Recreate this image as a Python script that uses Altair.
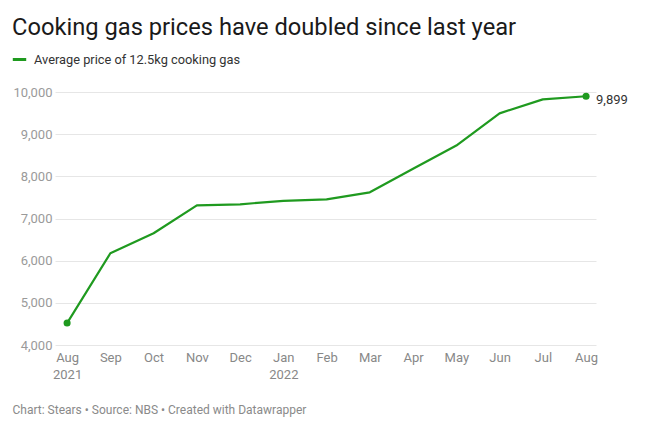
import altair as alt
import pandas as pd

month_idx = list(range(13))
month_top = ["Aug", "Sep", "Oct", "Nov", "Dec", "Jan", "Feb", "Mar", "Apr", "May", "Jun", "Jul", "Aug"]
month_bottom = ["2021", "", "", "", "", "2022", "", "", "", "", "", "", ""]
prices = [4520, 6175, 6650, 7313, 7337, 7420, 7455, 7621, 8180, 8730, 9494, 9826, 9899]
y_ticks = [4000, 5000, 6000, 7000, 8000, 9000, 10000]
series_name = "Average price of 12.5kg cooking gas"

df = pd.DataFrame({"m": month_idx, "price": prices, "series": series_name})
ends = df.iloc[[0, -1]].copy()
last = df.iloc[[-1]].copy()
last["label"] = ["9,899"]

GREEN = "#1f9a1f"
FONT = "Roboto"

top_js = "[" + ",".join(f"'{s}'" for s in month_top) + "]"
bot_js = "[" + ",".join(f"'{s}'" for s in month_bottom) + "]"
label_expr = f"{bot_js}[datum.value] == '' ? {top_js}[datum.value] : [{top_js}[datum.value], {bot_js}[datum.value]]"

x_enc = alt.X(
    "m:Q",
    scale=alt.Scale(domain=[-0.28, 12.23], nice=False, zero=False),
    axis=alt.Axis(
        values=month_idx,
        labelExpr=label_expr,
        grid=False, domain=False, ticks=False,
        labelFont=FONT, labelFontSize=13, labelColor="#888888",
        labelPadding=6, labelLineHeight=17,
        title="Chart: Stears • Source: NBS • Created with Datawrapper",
        titleFont=FONT, titleFontSize=12, titleFontWeight="normal", titleColor="#8a8a8a",
        titleAnchor="start", titleAlign="left", titleX=-43, titleY=64, titleBaseline="middle",
    ),
)
y_enc = alt.Y(
    "price:Q",
    scale=alt.Scale(domain=[4000, 10000], nice=False),
    axis=alt.Axis(
        values=y_ticks,
        labelExpr="format(datum.value, ',')",
        domain=False, ticks=False,
        gridColor="#e6e6e6", gridWidth=1,
        labelFont=FONT, labelFontSize=13, labelColor="#9a9a9a", labelPadding=3,
        title=None,
    ),
)

line = alt.Chart(df).mark_line(strokeWidth=2.2, strokeJoin="round").encode(
    x=x_enc, y=y_enc,
    color=alt.Color(
        "series:N",
        scale=alt.Scale(range=[GREEN]),
        legend=alt.Legend(
            title=None, orient="none", legendX=-44, legendY=-41,
            symbolType="stroke", symbolStrokeWidth=3, symbolSize=180,
            labelFont=FONT, labelFontSize=12.8, labelColor="#333333",
            labelOffset=6, labelLimit=0,
        ),
    ),
)
pts = alt.Chart(ends).mark_circle(size=50, opacity=1, color=GREEN).encode(x="m:Q", y="price:Q")
lbl = alt.Chart(last).mark_text(
    align="left", baseline="middle", dx=10, dy=4, font=FONT, fontSize=13, color="#333333"
).encode(x="m:Q", y="price:Q", text="label:N")

chart = alt.layer(line, pts, lbl).properties(
    width=541, height=253,
    autosize=alt.AutoSizeParams(type="none"),
    padding={"left": 47, "top": 84, "right": 46, "bottom": 75},
    title=alt.Title(
        "Cooking gas prices have doubled since last year",
        anchor="start", frame="group", font=FONT, fontSize=23.7, fontWeight="normal",
        color="#1a1a1a", offset=11, dx=-43,
    ),
).configure_view(stroke=None)

chart.save("out.html", embed_options={"renderer": "svg", "actions": False})
